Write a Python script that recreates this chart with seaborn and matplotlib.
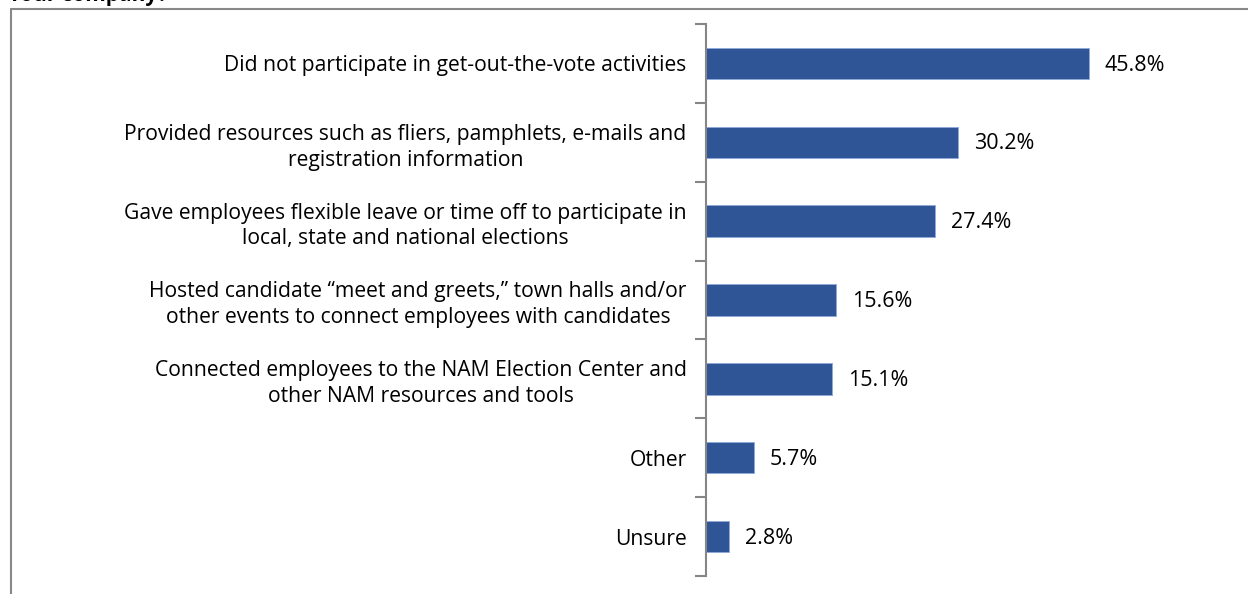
import matplotlib
matplotlib.use("Agg")
import matplotlib.pyplot as plt
import seaborn as sns
import pandas as pd
import numpy as np
from matplotlib.patches import Rectangle

categories = [
    "Did not participate in get-out-the-vote activities",
    "Provided resources such as fliers, pamphlets, e-mails and\nregistration information",
    "Gave employees flexible leave or time off to participate in\nlocal, state and national elections",
    "Hosted candidate \u201cmeet and greets,\u201d town halls and/or\nother events to connect employees with candidates",
    "Connected employees to the NAM Election Center and\nother NAM resources and tools",
    "Other",
    "Unsure",
]
values = [45.8, 30.2, 27.4, 15.6, 15.1, 5.7, 2.8]
value_labels = ["45.8%", "30.2%", "27.4%", "15.6%", "15.1%", "5.7%", "2.8%"]

sns.set_style("white")
plt.rcParams['font.family'] = ['Open Sans', 'DejaVu Sans']

W, H = 1248, 594
fig = plt.figure(figsize=(W / 100, H / 100), dpi=100)

# axes: left at x=706, top at y=24, bottom at y=576
ax_left = 706 / W
ax_right = (706 + 60 * 8.36) / W
ax_top = 1 - 24 / H
ax_bottom = 1 - 576 / H
ax = fig.add_axes([ax_left, ax_bottom, ax_right - ax_left, ax_top - ax_bottom])

df = pd.DataFrame({"category": categories, "value": values})
sns.barplot(data=df, x="value", y="category", orient="h", color="#2F5597",
            width=0.4, ax=ax, saturation=1, edgecolor="#8EA9DB", linewidth=0.6)

ax.set_xlim(0, 60)
ax.set_ylim(len(categories) - 0.5, -0.5)
ax.set_xlabel("")
ax.set_ylabel("")
ax.set_xticks([])
for s in ["top", "right", "bottom"]:
    ax.spines[s].set_visible(False)
ax.spines["left"].set_color("#868686")
ax.spines["left"].set_linewidth(1.5)

ax.set_yticks(range(len(categories)))
ax.set_yticklabels(categories, fontsize=15.2, color="#000000", linespacing=1.3)
ax.tick_params(axis="y", which="major", left=True, length=0, pad=14)
ax.set_yticks(np.arange(-0.5, len(categories), 1), minor=True)
ax.tick_params(axis="y", which="minor", left=True, length=8, width=1.5,
               color="#868686", direction="out")
for lab in ax.get_yticklabels():
    lab.set_horizontalalignment("right")
    lab.set_multialignment("center")

for i, (v, lab) in enumerate(zip(values, value_labels)):
    ax.text(v + 1.9, i + 0.02, lab, va="center", ha="left", fontsize=15.5, color="#000000")

# outer frame
fig.patches.append(Rectangle((11 / W, -0.1), 1.2, 1 - 9 / H + 0.1, transform=fig.transFigure,
                             fill=False, edgecolor="#888888", linewidth=1.5, zorder=0))
# cut-off title
fig.text(8 / W, 1 - 6 / H, "Your company?", fontsize=15, fontweight="bold",
         va="bottom", ha="left", color="#000000")

fig.savefig("out.png", dpi=100)
